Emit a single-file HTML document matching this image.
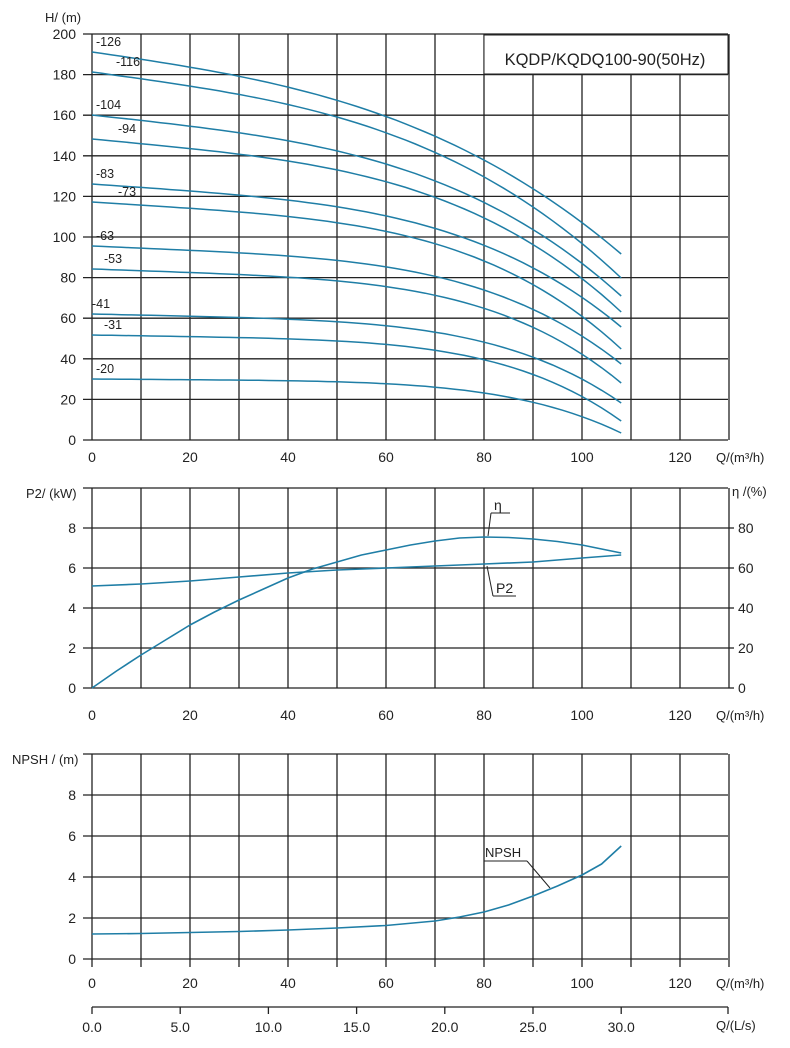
<!DOCTYPE html>
<html><head><meta charset="utf-8"><style>
html,body{margin:0;padding:0;background:#fff}
svg{display:block}
text{font-family:"Liberation Sans",Arial,sans-serif;fill:#222;font-size:14px}
</style></head><body>
<svg id="s" width="790" height="1048" viewBox="0 0 790 1048" xmlns="http://www.w3.org/2000/svg">
<g id="g"></g>
<text x="45" y="22" style="font-size:13px">H/ (m)</text>
<text x="26" y="498" style="font-size:13px">P2/ (kW)</text>
<text x="732" y="496" style="font-size:13px">η /(%)</text>
<text x="12" y="764" style="font-size:13px">NPSH / (m)</text>
<rect x="484" y="35" width="244" height="39" fill="#fff" stroke="#222" stroke-width="1"/>
<text x="605" y="65" text-anchor="middle" style="font-size:16.5px">KQDP/KQDQ100-90(50Hz)</text>
</svg>
<script>
var NS="http://www.w3.org/2000/svg",g=document.getElementById('g');
function el(n,a,t){var e=document.createElementNS(NS,n);for(var k in a)e.setAttribute(k,a[k]);if(t!=null)e.textContent=t;g.appendChild(e);return e;}
function line(x1,y1,x2,y2,w,c){el('line',{x1:x1,y1:y1,x2:x2,y2:y2,stroke:c||'#222','stroke-width':w||1.3});}
function X(q){return 92+q*4.9;}
var L=92,R=728;
function grid(top,bottom,n,labels,tickDown,rightLabels){
  var h=(bottom-top)/n;
  for(var i=0;i<=n;i++){var y=top+i*h;line(83,y,R,y);
    if(labels[i]!=null)el('text',{x:76,y:y+5,'text-anchor':'end'},labels[i]);
    if(rightLabels&&rightLabels[i]!=null){line(R,y,734,y);el('text',{x:738,y:y+5},rightLabels[i]);}}
  for(var q=0;q<=130;q+=10){var x=X(q);line(x,top,x,bottom+(tickDown||0));}
}
grid(34,440,10,['200','180','160','140','120','100','80','60','40','20','0'],0);
grid(488,688,5,[null,'8','6','4','2','0'],0,[null,'80','60','40','20','0']);
grid(754,959,5,[null,'8','6','4','2','0'],8);
function xl(y){var v=[0,20,40,60,80,100,120];for(var i=0;i<v.length;i++){el('text',{x:X(v[i]),y:y,'text-anchor':'middle'},String(v[i]));}
 el('text',{x:716,y:y,style:'font-size:13px'},'Q/(m³/h)');}
xl(462);xl(720);xl(988);
line(92,1007,728,1007);
var ls=['0.0','5.0','10.0','15.0','20.0','25.0','30.0'];
for(var i=0;i<7;i++){var x=X(i*18);line(x,1007,x,1014);el('text',{x:x,y:1032,'text-anchor':'middle'},ls[i]);}
line(728,1007,728,1014);
el('text',{x:716,y:1030,style:'font-size:13px'},'Q/(L/s)');
var C='#1f7ea6';
var names=['126','116','104','94','83','73','63','53','41','31','20'];
var y0=[52,72,115,139,184,202,246,269,314,335,379];
var ye=[254,278,296,312,327,349,364,383,403,421,433];
var lx=[96,116,96,118,96,118,96,104,92,104,96];
for(var k=0;k<11;k++){
  var f=k/10, a=0.385*(1-f)+0.07*f, p=3+2*f, pts=[];
  for(var q=0;q<=108;q+=2){var t=q/108;var y=y0[k]+(ye[k]-y0[k])*(a*t+(1-a)*Math.pow(t,p));pts.push(X(q).toFixed(1)+','+y.toFixed(1));}
  el('polyline',{points:pts.join(' '),fill:'none',stroke:C,'stroke-width':1.5});
  el('text',{x:lx[k],y:y0[k]-6,style:'font-size:12.5px'},'-'+names[k]);
}
function curve(data){var pts=[];for(var i=0;i<data.length;i++)pts.push(X(data[i][0]).toFixed(1)+','+data[i][1].toFixed(1));
 el('polyline',{points:pts.join(' '),fill:'none',stroke:C,'stroke-width':1.6,'stroke-linejoin':'round'});}
curve([[0,688],[5,671],[10,655],[15,640],[20,625],[25,612],[30,600],[35,589],[40,578],[45,569],[50,562],[55,555],[60,550],[65,545],[70,541],[75,538],[80,537],[85,537.5],[90,539],[95,541.5],[100,545],[104,549],[108,553]]);
curve([[0,586],[10,584],[20,581],[30,577],[40,573],[50,570],[60,568],[70,566],[80,564],[90,562],[100,558],[108,555]]);
el('text',{x:494,y:510,style:'font-size:14px'},'η');line(491,513,510,513,1,'#222');line(491,513,488,536,1,'#222');
el('text',{x:496,y:593,style:'font-size:14px'},'P2');line(493,596,516,596,1,'#222');line(493,596,487,566,1,'#222');
curve([[0,934],[10,933.5],[20,932.5],[30,931.5],[40,930],[50,928],[60,925.5],[70,921],[75,917],[80,912],[85,905],[90,896],[95,886],[100,875],[104,864],[108,846]]);
el('text',{x:485,y:857,style:'font-size:13px'},'NPSH');line(484,861,527,861,1,'#222');line(527,861,550,888,1,'#222');
</script>
</body></html>
